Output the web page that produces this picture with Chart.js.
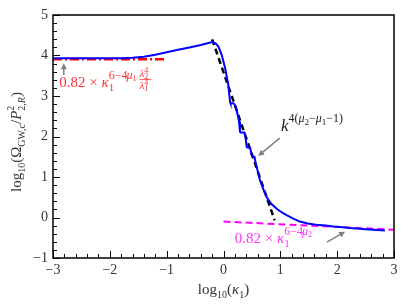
<!DOCTYPE html>
<html>
<head>
<meta charset="utf-8">
<script src="https://cdn.jsdelivr.net/npm/chart.js@4.4.1/dist/chart.umd.min.js"></script>
<style>
  html, body { margin: 0; padding: 0; background: #fff; }
</style>
</head>
<body>
<canvas id="c" width="407" height="305"></canvas>
<script>
// blue curve
const curveX = [-3, -2.5, -2, -1.8, -1.6, -1.4, -1.2, -1.0, -0.8, -0.6, -0.4, -0.2, -0.14, -0.09, -0.03,
  0.03, 0.085, 0.115, 0.125, 0.17, 0.19, 0.214, 0.232, 0.273, 0.29, 0.30, 0.366, 0.375, 0.39, 0.408,
  0.415, 0.466, 0.475, 0.496, 0.505, 0.542, 0.55, 0.584, 0.64, 0.70, 0.76, 0.84, 0.93, 1.02, 1.11,
  1.22, 1.34, 1.48, 1.63, 1.8, 1.93, 2.1, 2.22, 2.5, 2.84];
const curveY = [3.93, 3.93, 3.93, 3.935, 3.945, 3.97, 4.02, 4.08, 4.14, 4.2, 4.26, 4.33, 4.30, 4.22, 4.01,
  3.68, 3.27, 2.86, 2.82, 2.82, 2.80, 2.74, 2.65, 2.37, 2.12, 2.10, 2.10, 2.05, 1.95, 1.75,
  1.73, 1.73, 1.68, 1.54, 1.51, 1.50, 1.45, 1.25, 0.93, 0.70, 0.50, 0.34, 0.22, 0.13, 0.06,
  -0.02, -0.10, -0.15, -0.18, -0.20, -0.22, -0.24, -0.26, -0.29, -0.32];

// asymptotes
const powerX = [-0.2, 0.9];
const powerY = [4.40, -0.07];
const lowX = [-3, -1];
const lowY = [3.91, 3.91];
const highX = [0, 3];
const highY = [-0.10, -0.30];

// annotation anchors (data coords)
const redText = [-2.89, 3.22];
const redArrow = [[-2.81, 3.52], [-2.81, 3.81]];
const blackText = [1.01, 2.14];
const blackArrow = [[0.99, 1.96], [0.61, 1.52]];
const pinkText = [0.2, -0.63];
const pinkArrow = [[1.82, -0.61], [2.14, -0.35]];

const SERIF = '"Liberation Serif", "DejaVu Serif", serif';

function zip(xs, ys) {
  return xs.map((x, i) => ({ x: x, y: ys[i] }));
}

function minus(v) {
  return v < 0 ? '\u2212' + (-v) : String(v);
}

// text runs: {t, s, dy, it, stack}
function runsWidth(ctx, runs) {
  let w = 0, stackW = null;
  runs.forEach(r => {
    ctx.font = (r.it ? 'italic ' : '') + r.s + 'px ' + SERIF;
    const rw = ctx.measureText(r.t).width;
    if (r.stack) { stackW = rw; return; }
    if (stackW !== null) { w += Math.max(stackW, rw); stackW = null; } else w += rw;
  });
  return w;
}

function drawRuns(ctx, x, y, runs, color) {
  ctx.fillStyle = color;
  ctx.textBaseline = 'alphabetic';
  ctx.textAlign = 'left';
  let cx = x, stackW = null;
  runs.forEach(r => {
    ctx.font = (r.it ? 'italic ' : '') + r.s + 'px ' + SERIF;
    const rw = ctx.measureText(r.t).width;
    ctx.fillText(r.t, cx, y + (r.dy || 0));
    if (r.stack) { stackW = rw; return; }
    if (stackW !== null) { cx += Math.max(stackW, rw); stackW = null; } else cx += rw;
  });
  return cx;
}

function arrow(ctx, x1, y1, x2, y2) {
  const a = Math.atan2(y2 - y1, x2 - x1);
  ctx.save();
  ctx.strokeStyle = '#808080';
  ctx.fillStyle = '#808080';
  ctx.lineWidth = 1.5;
  ctx.beginPath();
  ctx.moveTo(x1, y1);
  ctx.lineTo(x2 - 4 * Math.cos(a), y2 - 4 * Math.sin(a));
  ctx.stroke();
  ctx.beginPath();
  ctx.moveTo(x2, y2);
  ctx.lineTo(x2 - 6 * Math.cos(a) + 3 * Math.sin(a), y2 - 6 * Math.sin(a) - 3 * Math.cos(a));
  ctx.lineTo(x2 - 6 * Math.cos(a) - 3 * Math.sin(a), y2 - 6 * Math.sin(a) + 3 * Math.cos(a));
  ctx.closePath();
  ctx.fill();
  ctx.restore();
}

const decorations = {
  id: 'decorations',
  afterDraw(chart) {
    const ctx = chart.ctx;
    const xs = chart.scales.x, ys = chart.scales.y;
    const area = chart.chartArea;
    const px = v => xs.getPixelForValue(v);
    const py = v => ys.getPixelForValue(v);
    ctx.save();

    // frame
    ctx.strokeStyle = '#000';
    ctx.lineWidth = 1.5;
    ctx.strokeRect(area.left, area.top, area.right - area.left, area.bottom - area.top);

    // inward ticks, minor every 0.2
    ctx.lineWidth = 1;
    ctx.beginPath();
    for (let i = -15; i <= 15; i++) {
      const len = i % 5 === 0 ? 7 : 4;
      const x = Math.round(px(i / 5)) + 0.5;
      ctx.moveTo(x, area.bottom);
      ctx.lineTo(x, area.bottom - len);
    }
    for (let i = -5; i <= 25; i++) {
      const len = i % 5 === 0 ? 7 : 4;
      const y = Math.round(py(i / 5)) + 0.5;
      ctx.moveTo(area.left, y);
      ctx.lineTo(area.left + len, y);
    }
    ctx.stroke();

    // axis titles
    const xTitle = [
      { t: 'log', s: 15 }, { t: '10', s: 10, dy: 4 }, { t: '(', s: 15 },
      { t: '\u03ba', s: 15, it: true }, { t: '1', s: 10, dy: 4 }, { t: ')', s: 15 }
    ];
    drawRuns(ctx, (area.left + area.right) / 2 - runsWidth(ctx, xTitle) / 2, 294, xTitle, '#333');

    const yTitle = [
      { t: 'log', s: 15 }, { t: '10', s: 10, dy: 4 }, { t: '(\u03a9', s: 15 },
      { t: 'GW,c', s: 10, dy: 4 }, { t: '/', s: 15 }, { t: 'P', s: 15, it: true },
      { t: '2', s: 10, dy: -7, stack: true }, { t: '2,', s: 10, dy: 4 },
      { t: 'R', s: 10, dy: 4, it: true }, { t: ')', s: 15 }
    ];
    ctx.save();
    ctx.translate(21, 142);
    ctx.rotate(-Math.PI / 2);
    drawRuns(ctx, -runsWidth(ctx, yTitle) / 2, 0, yTitle, '#333');
    ctx.restore();

    // red annotation
    const red = '#ff3333';
    let x0 = px(redText[0]), y0 = py(redText[1]);
    let cx = drawRuns(ctx, x0, y0, [
      { t: '0.82 \u00d7 ', s: 15 }, { t: '\u03ba', s: 15, it: true },
      { t: '6\u22124', s: 12, dy: -8, stack: true }, { t: '1', s: 11, dy: 4 }
    ], red);
    cx = drawRuns(ctx, cx - 1, y0 - 8, [{ t: '\u03bc', s: 12, it: true }, { t: '1', s: 8, dy: 2 }], red);
    const fx = cx + 3;
    drawRuns(ctx, fx, y0 - 10, [{ t: '\u03bb', s: 11, it: true }, { t: '4', s: 8, dy: -4, stack: true }, { t: '2', s: 8, dy: 2 }], red);
    drawRuns(ctx, fx, y0 + 2, [{ t: '\u03bb', s: 11, it: true }, { t: '4', s: 8, dy: -4, stack: true }, { t: '1', s: 8, dy: 2 }], red);
    ctx.strokeStyle = red;
    ctx.lineWidth = 0.8;
    ctx.beginPath();
    ctx.moveTo(fx, y0 - 7.5);
    ctx.lineTo(fx + 12, y0 - 7.5);
    ctx.stroke();

    // black annotation
    x0 = px(blackText[0]); y0 = py(blackText[1]);
    drawRuns(ctx, x0, y0, [
      { t: 'k', s: 17, it: true }, { t: '4(', s: 12, dy: -9 }, { t: '\u03bc', s: 12, it: true, dy: -9 },
      { t: '2', s: 9, dy: -6 }, { t: '\u2212', s: 12, dy: -9 }, { t: '\u03bc', s: 12, it: true, dy: -9 },
      { t: '1', s: 9, dy: -6 }, { t: '\u22121)', s: 12, dy: -9 }
    ], '#222');

    // magenta annotation
    const pink = '#ff33ff';
    x0 = px(pinkText[0]); y0 = py(pinkText[1]);
    cx = drawRuns(ctx, x0, y0, [
      { t: '0.82 \u00d7 ', s: 15 }, { t: '\u03ba', s: 15, it: true },
      { t: '6\u22124', s: 12, dy: -8, stack: true }, { t: '1', s: 11, dy: 4 }
    ], pink);
    drawRuns(ctx, cx - 1, y0 - 8, [{ t: '\u03bc', s: 12, it: true }, { t: '2', s: 8, dy: 2 }], pink);

    // arrows
    [redArrow, blackArrow, pinkArrow].forEach(a => {
      arrow(ctx, px(a[0][0]), py(a[0][1]), px(a[1][0]), py(a[1][1]));
    });

    ctx.restore();
  }
};

new Chart(document.getElementById('c'), {
  type: 'line',
  data: {
    datasets: [
      { data: zip(curveX, curveY), borderColor: '#0000ff', borderWidth: 2, pointRadius: 0, tension: 0 },
      { data: zip(lowX, lowY), borderColor: '#ff0000', borderWidth: 2.5, borderDash: [9, 3, 2, 3], pointRadius: 0 },
      { data: zip(powerX, powerY), borderColor: '#000', borderWidth: 2.5, borderDash: [6, 4], pointRadius: 0 },
      { data: zip(highX, highY), borderColor: '#ff00ff', borderWidth: 2, borderDash: [7, 4], pointRadius: 0 }
    ]
  },
  options: {
    responsive: false,
    animation: false,
    devicePixelRatio: 1,
    layout: { padding: { left: 0, right: 13, top: 15, bottom: 0 } },
    plugins: { legend: { display: false }, tooltip: { enabled: false } },
    scales: {
      x: {
        type: 'linear', min: -3, max: 3,
        grid: { display: false, drawTicks: false },
        border: { display: false },
        ticks: { stepSize: 1, padding: 4, color: '#333', font: { family: SERIF, size: 14 }, callback: minus, maxRotation: 0 },
        afterFit: s => { s.height = 47; }
      },
      y: {
        type: 'linear', min: -1, max: 5,
        grid: { display: false, drawTicks: false },
        border: { display: false },
        ticks: { stepSize: 1, padding: 5, color: '#333', font: { family: SERIF, size: 14 }, callback: minus },
        afterFit: s => { s.width = 53; }
      }
    }
  },
  plugins: [decorations]
});
</script>
</body>
</html>
